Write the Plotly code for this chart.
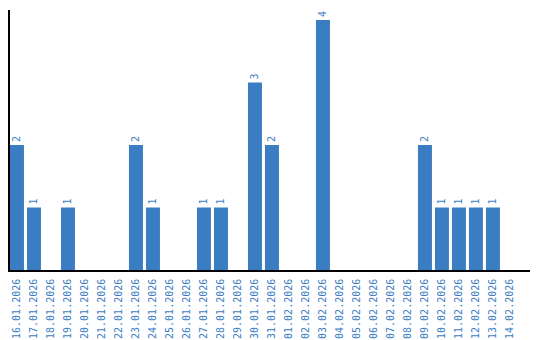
import plotly.graph_objects as go

dates = ["16.01.2026", "17.01.2026", "18.01.2026", "19.01.2026", "20.01.2026",
         "21.01.2026", "22.01.2026", "23.01.2026", "24.01.2026", "25.01.2026",
         "26.01.2026", "27.01.2026", "28.01.2026", "29.01.2026", "30.01.2026",
         "31.01.2026", "01.02.2026", "02.02.2026", "03.02.2026", "04.02.2026",
         "05.02.2026", "06.02.2026", "07.02.2026", "08.02.2026", "09.02.2026",
         "10.02.2026", "11.02.2026", "12.02.2026", "13.02.2026", "14.02.2026"]
counts = [2, 1, 0, 1, 0, 0, 0, 2, 1, 0, 0, 1, 1, 0, 3, 2, 0, 0, 4, 0,
          0, 0, 0, 0, 2, 1, 1, 1, 1, 0]

blue = "#3b7dc2"
labels = [str(v) if v > 0 else "" for v in counts]

fig = go.Figure(go.Bar(
    x=list(range(len(dates))), y=counts,
    marker=dict(color=blue, line=dict(width=0)),
    text=labels, textposition="outside", textangle=-90,
    textfont=dict(family="DejaVu Sans Mono", size=10, color=blue),
    cliponaxis=False,
))
fig.update_layout(
    width=540, height=340,
    margin=dict(l=10, r=10, t=10, b=70, autoexpand=False),
    paper_bgcolor="white", plot_bgcolor="white",
    bargap=3/17, showlegend=False,
    xaxis=dict(
        tickmode="array", tickvals=list(range(len(dates))), ticktext=dates,
        tickangle=-90, range=[-0.41, 30.18], automargin=False,
        tickfont=dict(family="DejaVu Sans Mono", size=10, color=blue),
        showline=True, linecolor="black", linewidth=1.5,
        showgrid=False, zeroline=False, ticks="", ticklen=0,
        ticklabelstandoff=3,
    ),
    yaxis=dict(
        range=[0, 4.16], showline=True, linecolor="black", linewidth=1.5,
        showgrid=False, zeroline=False, showticklabels=False, ticks="",
        automargin=False,
    ),
)
fig.write_html("out.html")
